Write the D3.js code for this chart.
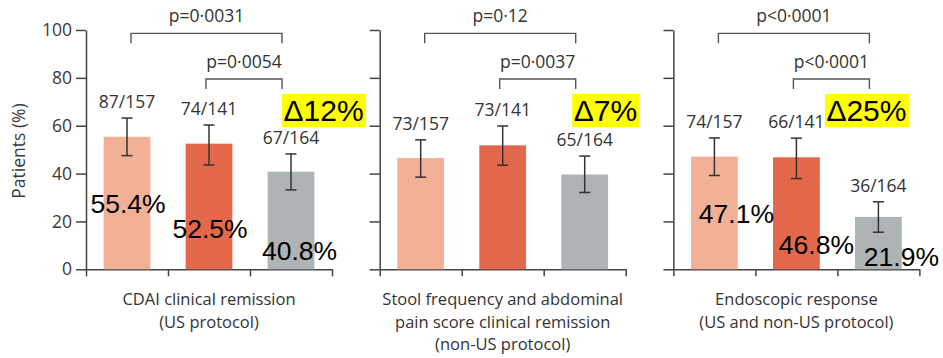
<!DOCTYPE html>
<html>
<head>
<meta charset="utf-8">
<script src="https://cdn.jsdelivr.net/npm/d3@7"></script>
<style>
  body { margin: 0; background: #fff; }
  svg { display: block; }
  .axis path, .axis line { stroke: #444; stroke-width: 1.5; }
  .axis text { font-family: "Open Sans", sans-serif; font-size: 17.5px; fill: #3a3a3a; }
</style>
</head>
<body>
<svg id="chart" width="943" height="358"></svg>
<script>
// ---- data ----
const outcomeLabels = [
  ["CDAI clinical remission", "(US protocol)"],
  ["Stool frequency and abdominal", "pain score clinical remission", "(non-US protocol)"],
  ["Endoscopic response", "(US and non-US protocol)"]
];
const groupKeys = ["groupA", "groupB", "groupC"];
const percentValues = [
  [55.4, 52.5, 40.8],
  [46.5, 51.8, 39.6],
  [47.1, 46.8, 21.9]
];
const ciLow = [
  [47.5, 43.6, 33.2],
  [38.5, 43.5, 32.1],
  [39.2, 37.9, 15.5]
];
const ciHigh = [
  [63.2, 60.3, 48.2],
  [54.1, 59.9, 47.3],
  [54.9, 54.8, 28.2]
];
const countLabels = [
  ["87/157", "74/141", "67/164"],
  ["73/157", "73/141", "65/164"],
  ["74/157", "66/141", "36/164"]
];
const percentLabels = [
  ["55.4%", "52.5%", "40.8%"],
  null,
  ["47.1%", "46.8%", "21.9%"]
];
const deltaLabels = ["Δ12%", "Δ7%", "Δ25%"];
const comparisons = [[0, 2], [1, 2]];
const pValueLabels = [
  ["p=0·0031", "p=0·0054"],
  ["p=0·12", "p=0·0037"],
  ["p<0·0001", "p<0·0001"]
];
const yTicks = [0, 20, 40, 60, 80, 100];
const yAxisTitle = "Patients (%)";

// ---- layout ----
const barColors = ["#F2B196", "#E3674B", "#AEB3B5"];
const plotTop = 30, plotBottom = 269.3;
const panelX0 = 86, panelStep = 293.7, panelWidth = 246;
const bracketLevels = [98.6, 79.5];     // in axis units
const bracketLeg = 10;
// placement of the large percentage labels: [dx from bar centre, baseline in axis units]
const pctPlacement = [
  [[1, 23.5], [1, 12.9], [8.5, 3.9]],
  null,
  [[22, 19.5], [20, 6.3], [23, 1.3]]
];
const deltaDx = [-7.5, -11, -52];
const deltaBaseline = 62;
const labelFont = "'Open Sans', sans-serif";

const svg = d3.select("#chart");

const y = d3.scaleLinear().domain([0, 100]).range([plotBottom, plotTop]);
const x = d3.scaleBand().domain(groupKeys).range([0, panelWidth])
  .paddingInner(0.43).paddingOuter(0.215);
const xEdge = d3.scaleLinear().domain([0, groupKeys.length]).range([0, panelWidth]);

// y-axis title
svg.append("text")
  .attr("transform", `translate(25,151) rotate(-90)`)
  .attr("text-anchor", "middle")
  .style("font-family", labelFont)
  .style("font-size", "17.5px")
  .style("fill", "#3a3a3a")
  .text(yAxisTitle);

outcomeLabels.forEach((lines, p) => {
  const g = svg.append("g").attr("transform", `translate(${panelX0 + p * panelStep},0)`);

  // axes
  g.append("g").attr("class", "axis")
    .call(d3.axisLeft(y).tickValues(yTicks).tickSize(10).tickSizeOuter(0).tickPadding(4)
      .tickFormat(p === 0 ? d3.format("d") : () => ""));
  g.append("g").attr("class", "axis")
    .attr("transform", `translate(0,${plotBottom})`)
    .call(d3.axisBottom(xEdge).tickValues(d3.range(groupKeys.length + 1))
      .tickSize(7).tickSizeOuter(0).tickFormat(() => ""));

  const rows = groupKeys.map((k, i) => ({
    key: k, i,
    value: percentValues[p][i],
    lo: ciLow[p][i],
    hi: ciHigh[p][i],
    count: countLabels[p][i]
  }));

  // bars
  g.selectAll("rect.bar").data(rows).join("rect")
    .attr("class", "bar")
    .attr("x", d => x(d.key))
    .attr("width", x.bandwidth())
    .attr("y", d => y(d.value))
    .attr("height", d => y(0) - y(d.value))
    .attr("fill", d => barColors[d.i]);

  // error bars
  const cx = d => x(d.key) + x.bandwidth() / 2;
  const eb = g.selectAll("g.err").data(rows).join("g").attr("class", "err")
    .attr("stroke", "#333").attr("stroke-width", 1.5);
  eb.append("line").attr("x1", cx).attr("x2", cx).attr("y1", d => y(d.lo)).attr("y2", d => y(d.hi));
  eb.append("line").attr("x1", d => cx(d) - 5.5).attr("x2", d => cx(d) + 5.5).attr("y1", d => y(d.hi)).attr("y2", d => y(d.hi));
  eb.append("line").attr("x1", d => cx(d) - 5.5).attr("x2", d => cx(d) + 5.5).attr("y1", d => y(d.lo)).attr("y2", d => y(d.lo));

  // n/N labels
  g.selectAll("text.count").data(rows).join("text")
    .attr("class", "count")
    .attr("x", cx)
    .attr("y", d => y(d.hi) - 10)
    .attr("text-anchor", "middle")
    .style("font-family", labelFont)
    .style("font-size", "17.5px")
    .style("fill", "#333")
    .text(d => d.count);

  // comparison brackets
  comparisons.forEach(([a, b], c) => {
    const xa = cx(rows[a]) + (c === 0 ? 4 : -3);
    const xb = cx(rows[b]) - 9;
    const yl = y(bracketLevels[c]);
    g.append("path")
      .attr("d", `M${xa},${yl + bracketLeg}V${yl}H${xb}V${yl + bracketLeg}`)
      .attr("fill", "none").attr("stroke", "#555").attr("stroke-width", 1.4);
    g.append("text")
      .attr("x", (xa + xb) / 2)
      .attr("y", yl - 11)
      .attr("text-anchor", "middle")
      .style("font-family", labelFont)
      .style("font-size", "17.5px")
      .style("fill", "#333")
      .text(pValueLabels[p][c]);
  });

  // large percentage annotations
  if (percentLabels[p]) {
    rows.forEach((d, i) => {
      const [dx, v] = pctPlacement[p][i];
      g.append("text")
        .attr("x", cx(d) + dx)
        .attr("y", y(v))
        .attr("text-anchor", "middle")
        .style("font-family", "'Liberation Sans', Arial, sans-serif")
        .style("font-size", "26.5px")
        .style("fill", "#000")
        .text(percentLabels[p][i]);
    });
  }

  // highlighted difference label
  const dg = g.append("g");
  const dt = dg.append("text")
    .attr("x", cx(rows[2]) + deltaDx[p])
    .attr("y", y(deltaBaseline))
    .style("font-family", "'Liberation Sans', Arial, sans-serif")
    .style("font-size", "30px")
    .style("fill", "#000")
    .text(deltaLabels[p]);
  const bb = dt.node().getBBox();
  dg.insert("rect", "text")
    .attr("x", bb.x - 1.5).attr("y", bb.y)
    .attr("width", bb.width + 4).attr("height", bb.height)
    .attr("fill", "#FFFF00");

  // category label
  g.append("text")
    .attr("text-anchor", "middle")
    .style("font-family", labelFont)
    .style("font-size", "16.5px")
    .style("fill", "#333")
    .selectAll("tspan").data(lines).join("tspan")
    .attr("x", panelWidth / 2)
    .attr("y", (d, i) => 305 + i * 22.5)
    .text(d => d);
});
</script>
</body>
</html>
